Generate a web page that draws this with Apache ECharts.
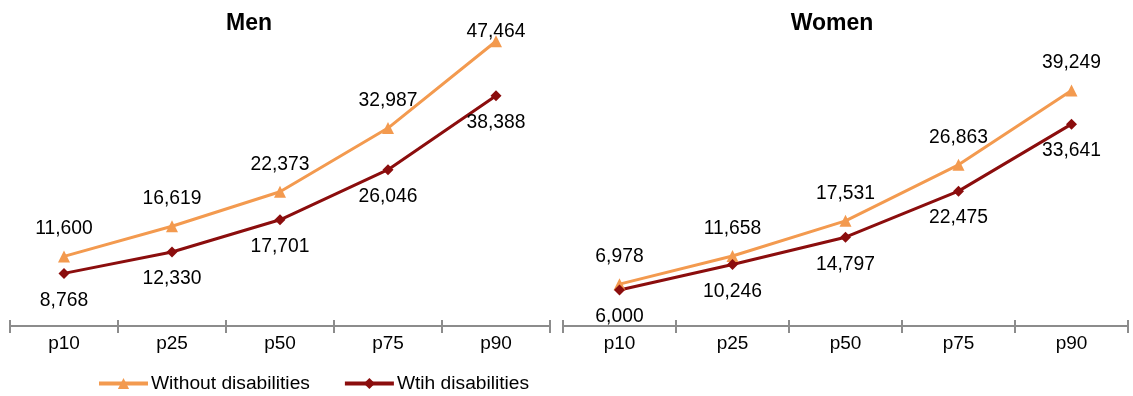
<!DOCTYPE html>
<html>
<head>
<meta charset="utf-8">
<script src="https://cdn.jsdelivr.net/npm/echarts@6/dist/echarts.min.js"></script>
<style>
html,body{margin:0;padding:0;background:#fff;}
#chart{width:1133px;height:396px;}
</style>
</head>
<body>
<div id="chart"></div>
<script>
var categories = ['p10', 'p25', 'p50', 'p75', 'p90'];
var menWithout = [11600, 16619, 22373, 32987, 47464];
var menWith = [8768, 12330, 17701, 26046, 38388];
var womenWithout = [6978, 11658, 17531, 26863, 39249];
var womenWith = [6000, 10246, 14797, 22475, 33641];
var panelTitles = ['Men', 'Women'];
var seriesNames = ['Without disabilities', 'Wtih disabilities'];

var ORANGE = '#F39A4F';
var DARKRED = '#8B0D0D';
var AXIS = '#8C8C8C';
var FONT = '"Liberation Sans", Arial, sans-serif';

function fmt(v) {
  return String(v).replace(/\B(?=(\d{3})+(?!\d))/g, ',');
}

var chart = echarts.init(document.getElementById('chart'), null, {renderer: 'canvas'});

var grids = [
  {left: 10, width: 540, top: 26, height: 300},
  {left: 563, width: 565, top: 26, height: 300}
];

var xAxes = [];
var yAxes = [];
[0, 1].forEach(function (g) {
  xAxes.push({
    type: 'category', gridIndex: g, data: categories, boundaryGap: true,
    axisLine: {show: true, lineStyle: {color: AXIS, width: 2}},
    axisTick: {show: true, length: 7, lineStyle: {color: AXIS, width: 2}},
    axisLabel: {fontSize: 19, color: '#000', fontFamily: FONT, margin: 8},
    splitLine: {show: false}
  });
  xAxes.push({
    type: 'category', gridIndex: g, data: categories, boundaryGap: true, position: 'bottom',
    axisLine: {show: false},
    axisTick: {show: true, inside: true, length: 6, lineStyle: {color: AXIS, width: 2}},
    axisLabel: {show: false},
    splitLine: {show: false}
  });
  yAxes.push({
    type: 'value', gridIndex: g, min: 0, max: 50000, show: false,
    splitLine: {show: false}
  });
});

function makeSeries(name, data, g, color, symbol, size, pos) {
  return {
    name: name, type: 'line', data: data,
    xAxisIndex: g * 2, yAxisIndex: g,
    symbol: symbol, symbolSize: size,
    lineStyle: {color: color, width: 3},
    itemStyle: {color: color},
    label: {
      show: true, position: pos, distance: 12,
      fontSize: 19.3, color: '#000', fontFamily: FONT,
      formatter: function (p) { return fmt(p.value); }
    },
    labelLayout: function (params) {
      var r = params.labelRect;
      if (r.y < 22) { return {dy: 22 - r.y}; }
      return {};
    },
    emphasis: {disabled: true},
    animation: false
  };
}

var option = {
  animation: false,
  backgroundColor: '#fff',
  title: [
    {text: panelTitles[0], left: 244, top: 7, textAlign: 'center',
     textStyle: {fontSize: 23, fontWeight: 'bold', color: '#000', fontFamily: FONT}},
    {text: panelTitles[1], left: 827, top: 7, textAlign: 'center',
     textStyle: {fontSize: 23, fontWeight: 'bold', color: '#000', fontFamily: FONT}}
  ],
  legend: {
    left: 92, top: 369, itemWidth: 49, itemHeight: 14, itemGap: 33,
    data: seriesNames,
    lineStyle: {width: 4},
    textStyle: {fontSize: 19.2, color: '#000', fontFamily: FONT, padding: [0, 0, 0, -2]}
  },
  grid: grids,
  xAxis: xAxes,
  yAxis: yAxes,
  series: [
    makeSeries(seriesNames[0], menWithout, 0, ORANGE, 'triangle', 12, 'top'),
    makeSeries(seriesNames[1], menWith, 0, DARKRED, 'diamond', 11, 'bottom'),
    makeSeries(seriesNames[0], womenWithout, 1, ORANGE, 'triangle', 12, 'top'),
    makeSeries(seriesNames[1], womenWith, 1, DARKRED, 'diamond', 11, 'bottom')
  ]
};
chart.setOption(option);
</script>
</body>
</html>
